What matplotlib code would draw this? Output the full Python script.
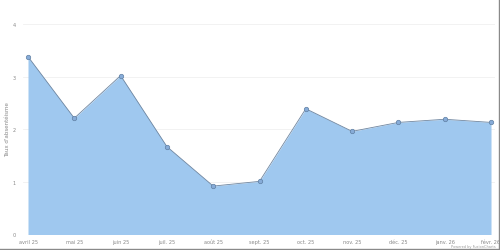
import matplotlib
matplotlib.use('Agg')
import matplotlib.pyplot as plt
from matplotlib.lines import Line2D

# Données : taux d'absentéisme par mois
mois = ["avril 25", "mai 25", "juin 25", "juil. 25", "août 25", "sept. 25",
        "oct. 25", "nov. 25", "déc. 25", "janv. 26", "févr. 26"]
taux = [3.38, 2.21, 3.02, 1.67, 0.92, 1.01, 2.39, 1.96, 2.13, 2.19, 2.13]
yticks = [0, 1, 2, 3, 4]

fig = plt.figure(figsize=(5.0, 2.51), dpi=100)
fig.patch.set_facecolor("white")
# zone de tracé en pixels : x 23 -> 495, y 25 -> 235.5
ax = fig.add_axes([23 / 500, 15.5 / 251, 472 / 500, 210.5 / 251])

xs = list(range(len(mois)))
ax.fill_between(xs, taux, 0, color="#9fc8ef", lw=0, zorder=2)
ax.plot(xs, taux, color="#6f86a0", lw=0.6, zorder=3)
ax.plot(xs, taux, 'o', ms=3.2, mfc="#87acd8", mec="#5f7fa3", mew=0.5, zorder=4)

ax.set_xlim(-0.108, 10.086)
ax.set_ylim(0, 4)
ax.set_yticks(yticks)
ax.set_xticks(xs)
ax.set_xticklabels(mois)
ax.grid(axis='y', color="#f0f0f0", lw=0.6, zorder=0)
ax.tick_params(axis='both', length=0, labelsize=3.6, labelcolor="#888888")
ax.tick_params(axis='y', pad=5)
ax.tick_params(axis='x', pad=3)
for s in ax.spines.values():
    s.set_visible(False)

fig.text(8 / 500, 1 - 130 / 251, "Taux d'absentéisme", rotation=90,
         ha='center', va='center', fontsize=4, color="#888888")
fig.text(496 / 500, 1 - 246.8 / 251, "Powered by FusionCharts", ha='right',
         va='center', fontsize=2.5, color="#999999")

# cadre gris en bas et à droite
fig.add_artist(Line2D([0, 499 / 500], [1 - 249.5 / 251] * 2,
                      color="#8a8a8a", lw=1.0, transform=fig.transFigure))
fig.add_artist(Line2D([498.5 / 500] * 2, [1 - 249.5 / 251, 1],
                      color="#8a8a8a", lw=1.0, transform=fig.transFigure))

fig.savefig("out.png", dpi=100)
